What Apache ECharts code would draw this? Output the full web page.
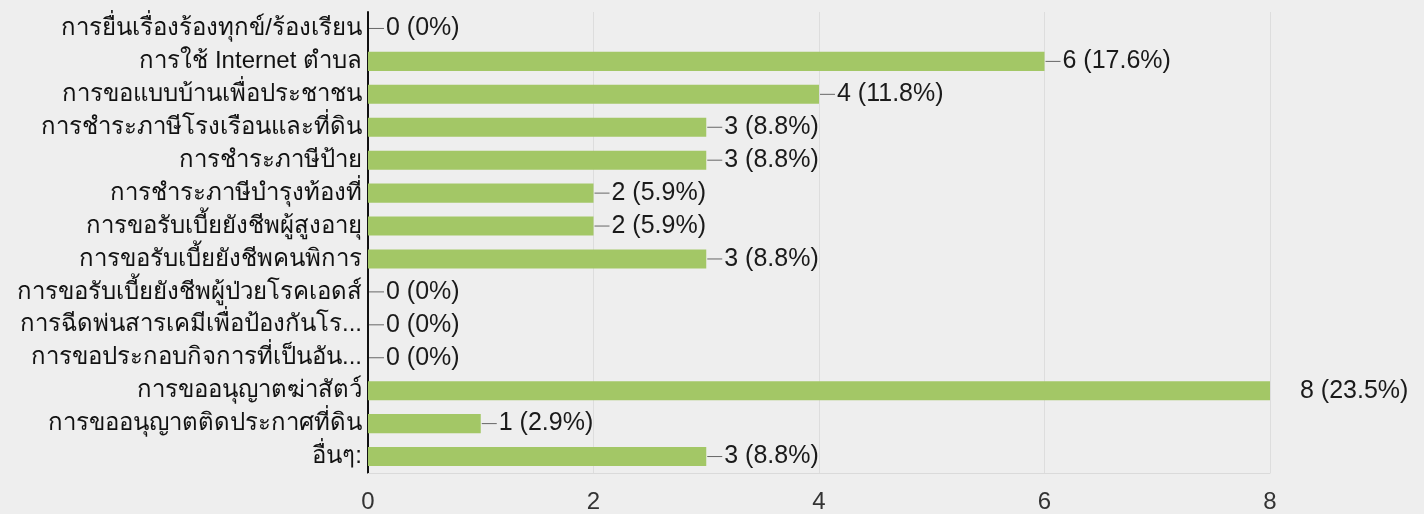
<!DOCTYPE html>
<html>
<head>
<meta charset="utf-8">
<script src="https://cdn.jsdelivr.net/npm/echarts@6/dist/echarts.min.js"></script>
<style>
  html, body { margin: 0; padding: 0; background: #eeeeee; }
  #chart { width: 1424px; height: 514px; }
</style>
</head>
<body>
<div id="chart"></div>
<script>
  // หมวดหมู่ (จากบนลงล่าง)
  const categories = [
    'การยื่นเรื่องร้องทุกข์/ร้องเรียน',
    'การใช้ Internet ตำบล',
    'การขอแบบบ้านเพื่อประชาชน',
    'การชำระภาษีโรงเรือนและที่ดิน',
    'การชำระภาษีป้าย',
    'การชำระภาษีบำรุงท้องที่',
    'การขอรับเบี้ยยังชีพผู้สูงอายุ',
    'การขอรับเบี้ยยังชีพคนพิการ',
    'การขอรับเบี้ยยังชีพผู้ป่วยโรคเอดส์',
    'การฉีดพ่นสารเคมีเพื่อป้องกันโร...',
    'การขอประกอบกิจการที่เป็นอัน...',
    'การขออนุญาตฆ่าสัตว์',
    'การขออนุญาตติดประกาศที่ดิน',
    'อื่นๆ:'
  ]
  const counts = [0, 6, 4, 3, 3, 2, 2, 3, 0, 0, 0, 8, 1, 3]
  const percents = ['0%', '17.6%', '11.8%', '8.8%', '8.8%', '5.9%', '5.9%', '8.8%', '0%', '0%', '0%', '23.5%', '2.9%', '8.8%']
  const xTicks = [0, 2, 4, 6, 8]

  const font = "'Liberation Sans', Arial, sans-serif"
  const dom = echarts.init(document.getElementById('chart'))

  let option = {
    backgroundColor: '#eeeeee',
    animation: false,
    grid: {
      left: 368,
      right: 154,
      top: 12,
      bottom: 41
    },
    xAxis: {
      type: 'value',
      min: xTicks[0],
      max: xTicks[xTicks.length - 1],
      interval: 2,
      axisLine: { show: true, lineStyle: { color: '#dadada', width: 1 } },
      axisTick: { show: false },
      splitLine: {
        show: true,
        lineStyle: { color: '#dddddd', width: 1 }
      },
      axisLabel: {
        color: '#333',
        fontSize: 24,
        fontFamily: font,
        margin: 17
      }
    },
    yAxis: {
      type: 'category',
      inverse: true,
      data: categories,
      axisLine: { show: true, lineStyle: { color: '#111', width: 2 } },
      axisTick: { show: false },
      axisLabel: {
        color: '#111',
        fontSize: 24,
        fontFamily: font,
        margin: 6
      }
    },
    series: [
      {
        type: 'bar',
        data: counts,
        barCategoryGap: '42%',
        itemStyle: { color: '#a3c766' },
        label: {
          show: true,
          position: 'right',
          distance: 1,
          formatter: (p) => {
            const txt = counts[p.dataIndex] + ' (' + percents[p.dataIndex] + ')'
            // ค่าสูงสุดไม่มีเส้นนำ
            if (counts[p.dataIndex] === xTicks[xTicks.length - 1]) return '{gap|}{v|' + txt + '}'
            return '{l|}{v|' + txt + '}'
          },
          rich: {
            l: { width: 15, height: 1, backgroundColor: '#666' },
            gap: { width: 27 },
            v: { color: '#1a1a1a', fontSize: 25, fontFamily: font, padding: [0, 0, 0, 2] }
          }
        }
      }
    ]
  }
  dom.setOption(option)
  window.addEventListener('resize', () => dom.resize())
</script>
</body>
</html>
